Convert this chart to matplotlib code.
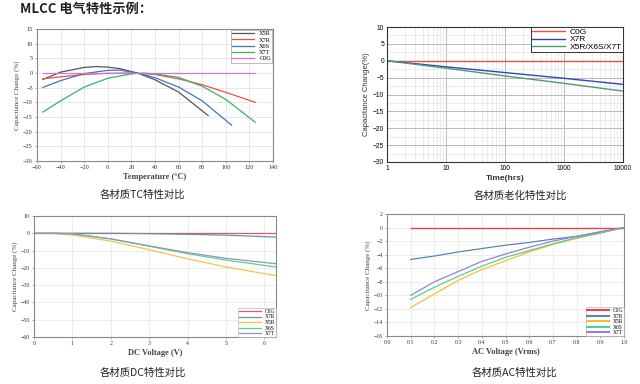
import matplotlib
matplotlib.use("Agg")
import matplotlib.pyplot as plt
from matplotlib.ticker import FixedLocator, NullFormatter
import numpy as np

SERIF = ["Liberation Serif", "DejaVu Serif"]
SANS = ["Liberation Sans", "DejaVu Sans"]
CJK = ["Noto Sans CJK SC", "DejaVu Sans"]

# --- TC characteristics ---
tc_x5r_t = [-55, -40, -20, -10, 0, 10, 25, 40, 60, 85]
tc_x5r_v = [-2.2, 0.3, 1.9, 2.2, 2.0, 1.5, 0.0, -2.3, -6.5, -14.5]
tc_x7r_t = [-55, -40, -20, 0, 20, 40, 60, 80, 100, 125]
tc_x7r_v = [-2.0, -1.3, -0.5, -0.1, 0.0, -0.5, -2.0, -4.0, -6.6, -10.0]
tc_x6s_t = [-55, -40, -20, 0, 10, 25, 40, 60, 80, 105]
tc_x6s_v = [-4.9, -2.6, -0.2, 0.9, 1.0, 0.0, -1.6, -4.8, -9.5, -17.8]
tc_x7t_t = [-55, -40, -20, 0, 20, 30, 40, 60, 80, 100, 125]
tc_x7t_v = [-13.3, -9.5, -4.8, -1.8, -0.3, 0.0, -0.3, -1.5, -4.5, -9.0, -16.8]
tc_c0g_t = [-55, 125]
tc_c0g_v = [0.0, 0.0]

# --- aging ---
age_hrs = [1, 10, 100, 1000, 10000]
age_c0g = [0, 0, 0, 0, 0]
age_x7r = [0, -1.8, -3.5, -5.2, -7.0]
age_x5r = [0, -2.2, -4.5, -6.7, -9.0]

# --- DC bias ---
dc_v = [0, 0.5, 1, 2, 3, 4, 5, 6.3]
dc_c0g = [0, 0, 0, 0, 0, 0, 0, 0]
dc_x7r = [0, 0, 0, 0, -0.2, -0.6, -1.1, -2.2]
dc_x5r = [0, -0.2, -1.0, -4.5, -9.5, -14.8, -19.5, -24.5]
dc_x6s = [0, 0, -0.3, -3.3, -7.5, -11.8, -15.5, -19.5]
dc_x7t = [0, 0, -0.3, -3.2, -7.3, -11.2, -14.5, -17.6]

# --- AC voltage ---
ac_v = [0.1, 0.2, 0.3, 0.4, 0.5, 0.6, 0.7, 0.8, 0.9, 1.0]
ac_c0g = [0, 0, 0, 0, 0, 0, 0, 0, 0, 0]
ac_x7r = [-4.7, -4.2, -3.6, -3.1, -2.6, -2.2, -1.7, -1.3, -0.7, 0.0]
ac_x5r = [-11.8, -9.8, -7.8, -6.2, -4.9, -3.6, -2.5, -1.6, -0.8, 0.0]
ac_x6s = [-10.6, -8.8, -7.2, -5.7, -4.4, -3.4, -2.4, -1.5, -0.8, 0.0]
ac_x7t = [-10.0, -8.0, -6.5, -5.0, -3.9, -2.9, -2.0, -1.3, -0.6, 0.0]

W, H = 640, 384
fig = plt.figure(figsize=(6.4, 3.84), dpi=100)


def add_ax(l, t, r, b):
    return fig.add_axes([l / W, 1 - b / H, (r - l) / W, (b - t) / H])


def style_serif(ax, xlabel, ylabel, fs=4.5):
    for s in ax.spines.values():
        s.set_color("#8a8a8a")
        s.set_linewidth(0.8)
    ax.tick_params(length=1.5, width=0.5, color="#8a8a8a", pad=1.5, labelsize=fs)
    for lab in ax.get_xticklabels() + ax.get_yticklabels():
        lab.set_family(SERIF)
        lab.set_color("#333333")
    ax.set_xlabel(xlabel, family=SERIF, fontsize=6, fontweight="bold",
                  color="#444444", labelpad=2)
    ax.set_ylabel(ylabel, family=SERIF, fontsize=5, color="#444444", labelpad=2)


# Title and captions
fig.text(20 / W, 1 - 9 / H, "MLCC 电气特性示例：", family=CJK, fontsize=9.5,
         fontweight="bold", va="center", ha="left", color="#222222")
fig.text(142 / W, 1 - 195 / H, "各材质TC特性对比", family=CJK, fontsize=7.5,
         va="center", ha="center", color="#222222")
fig.text(520 / W, 1 - 196 / H, "各材质老化特性对比", family=CJK, fontsize=7.5,
         va="center", ha="center", color="#222222")
fig.text(143 / W, 1 - 373 / H, "各材质DC特性对比", family=CJK, fontsize=7.5,
         va="center", ha="center", color="#222222")
fig.text(515 / W, 1 - 373 / H, "各材质AC特性对比", family=CJK, fontsize=7.5,
         va="center", ha="center", color="#222222")

# ---- Chart 1: TC ----
ax1 = add_ax(37, 29, 273, 161)
ax1.plot(tc_x5r_t, tc_x5r_v, color="#555555", lw=0.9, label="X5R")
ax1.plot(tc_x7r_t, tc_x7r_v, color="#e8524a", lw=0.9, label="X7R")
ax1.plot(tc_x6s_t, tc_x6s_v, color="#4472c4", lw=0.9, label="X6S")
ax1.plot(tc_x7t_t, tc_x7t_v, color="#3fae6a", lw=0.9, label="X7T")
ax1.plot(tc_c0g_t, tc_c0g_v, color="#cc77dd", lw=0.9, label="C0G")
ax1.set_xlim(-60, 140)
ax1.set_ylim(-30, 15)
ax1.set_xticks(np.arange(-60, 141, 20))
ax1.set_yticks(np.arange(-30, 16, 5))
ax1.grid(True, color="#dddddd", lw=0.5)
ax1.set_axisbelow(True)
style_serif(ax1, "Temperature (°C)", "Capacitance Change (%)")
leg = ax1.legend(loc="upper right", prop={"family": SERIF, "size": 4.5},
                 frameon=True, fancybox=False, borderpad=0.2, labelspacing=0.15,
                 handlelength=3.5, handletextpad=0.8, borderaxespad=0.1)
leg.get_frame().set_edgecolor("#888888")
leg.get_frame().set_linewidth(0.5)

# ---- Chart 2: aging ----
ax2 = add_ax(387, 27, 623, 162)
ax2.plot(age_hrs, age_c0g, color="#e8524a", lw=1.0, label="C0G")
ax2.plot(age_hrs, age_x7r, color="#3344bb", lw=1.0, label="X7R")
ax2.plot(age_hrs, age_x5r, color="#4f9a72", lw=1.0, label="X5R/X6S/X7T")
ax2.set_xscale("log")
ax2.set_xlim(1, 10000)
ax2.set_ylim(-30, 10)
ax2.set_yticks(np.arange(-30, 11, 5))
ax2.set_xticks(age_hrs)
ax2.set_xticklabels(["1", "10", "100", "1000", "10000"])
ax2.xaxis.set_minor_formatter(NullFormatter())
ax2.yaxis.set_minor_locator(FixedLocator(np.arange(-30, 10, 2.5)))
ax2.grid(True, which="major", color="#b0b0b0", lw=0.6)
ax2.grid(True, which="minor", color="#e4e4e4", lw=0.5)
ax2.set_axisbelow(True)
for s in ax2.spines.values():
    s.set_color("#333333")
    s.set_linewidth(0.8)
ax2.tick_params(which="both", length=0, pad=2, labelsize=4.8)
for lab in ax2.get_xticklabels() + ax2.get_yticklabels():
    lab.set_family(SANS)
ax2.set_xlabel("Time(hrs)", family=SANS, fontsize=6, fontweight="bold",
               color="#333333", labelpad=2)
ax2.set_ylabel("Capacitance Change(%)", family=SANS, fontsize=5.5,
               color="#333333", labelpad=2)
leg2 = ax2.legend(loc="upper right", prop={"family": SANS, "size": 6},
                  frameon=True, fancybox=False, borderpad=0.1, labelspacing=0.0,
                  handlelength=4, handletextpad=0.6, borderaxespad=0.0)
leg2.get_frame().set_edgecolor("#333333")
leg2.get_frame().set_linewidth(0.7)
leg2.get_frame().set_alpha(1)

# ---- Chart 3: DC ----
ax3 = add_ax(34, 216, 276, 337)
ax3.plot(dc_v, dc_c0g, color="#e8526a", lw=0.9, label="C0G")
ax3.plot(dc_v, dc_x7r, color="#6d8fa8", lw=0.9, label="X7R")
ax3.plot(dc_v, dc_x5r, color="#f5c542", lw=0.9, label="X5R")
ax3.plot(dc_v, dc_x6s, color="#5ccf8f", lw=0.9, label="X6S")
ax3.plot(dc_v, dc_x7t, color="#8d98c0", lw=0.9, label="X7T")
ax3.set_xlim(0, 6.3)
ax3.set_ylim(-60, 10)
ax3.set_xticks(range(0, 7))
ax3.set_yticks(np.arange(-60, 11, 10))
ax3.grid(True, color="#e6e6e6", lw=0.5)
ax3.set_axisbelow(True)
style_serif(ax3, "DC Voltage (V)", "Capacitance Change (%)", fs=4.2)
leg3 = ax3.legend(loc="lower right", prop={"family": SERIF, "size": 4},
                  frameon=True, fancybox=False, borderpad=0.15, labelspacing=0.1,
                  handlelength=4, handletextpad=0.6, borderaxespad=0.0)
leg3.get_frame().set_edgecolor("#aaaaaa")
leg3.get_frame().set_linewidth(0.5)

# ---- Chart 4: AC ----
ax4 = add_ax(387, 214, 624, 336)
ax4.plot(ac_v, ac_c0g, color="#e8424a", lw=1.0, label="C0G")
ax4.plot(ac_v, ac_x7r, color="#5a86b0", lw=0.9, label="X7R")
ax4.plot(ac_v, ac_x5r, color="#f5c030", lw=0.9, label="X5R")
ax4.plot(ac_v, ac_x6s, color="#4fd29a", lw=0.9, label="X6S")
ax4.plot(ac_v, ac_x7t, color="#9b7fd4", lw=0.9, label="X7T")
ax4.set_xlim(0, 1.0)
ax4.set_ylim(-16, 2)
ax4.set_xticks(np.round(np.arange(0, 1.01, 0.1), 1))
ax4.set_xticklabels([f"{v:.1f}" for v in np.arange(0, 1.01, 0.1)])
ax4.set_yticks(np.arange(-16, 3, 2))
ax4.grid(True, color="#e6e6e6", lw=0.5)
ax4.set_axisbelow(True)
style_serif(ax4, "AC Voltage (Vrms)", "Capacitance Change (%)", fs=4.2)
leg4 = ax4.legend(loc="lower right", prop={"family": SERIF, "size": 4},
                  frameon=True, fancybox=False, borderpad=0.15, labelspacing=0.1,
                  handlelength=4, handletextpad=0.6, borderaxespad=0.0)
leg4.get_frame().set_edgecolor("#aaaaaa")
leg4.get_frame().set_linewidth(0.5)
for line in leg4.get_lines():
    line.set_linewidth(1.5)

fig.savefig("out.png", dpi=100)
